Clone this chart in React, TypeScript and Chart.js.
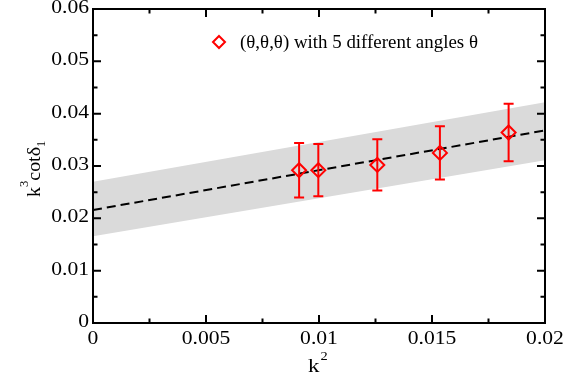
import React, { useEffect, useRef } from "react";
import { Chart, registerables } from "chart.js";

Chart.register(...registerables);

// Data
const k2 = [0.00912, 0.00997, 0.01258, 0.01535, 0.01839];
const kcot = [0.0292, 0.0292, 0.0302, 0.0325, 0.0364];
const kcotErr = [0.0052, 0.005, 0.0049, 0.0051, 0.0055];

const fitX = [0, 0.02];
const fitY = [0.0216, 0.0368];
const bandLow = [0.0166, 0.0311];
const bandHigh = [0.027, 0.0422];

const xMajorTicks = [0, 0.005, 0.01, 0.015, 0.02];
const xTickLabels = ["0", "0.005", "0.01", "0.015", "0.02"];
const xMinorTicks = [0.0025, 0.0075, 0.0125, 0.0175];
const yMajorTicks = [0, 0.01, 0.02, 0.03, 0.04, 0.05, 0.06];
const yTickLabels = ["0", "0.01", "0.02", "0.03", "0.04", "0.05", "0.06"];
const yMinorTicks = [0.005, 0.015, 0.025, 0.035, 0.045, 0.055];

const legendLabel = "(\u03b8,\u03b8,\u03b8) with 5 different angles \u03b8";

const SERIF = '"Liberation Serif", "DejaVu Serif", serif';
const SX = 1.2;

function drawText(
  ctx: CanvasRenderingContext2D,
  text: string,
  x: number,
  y: number,
  size: number,
  align: "left" | "center" | "right",
  baseline: CanvasTextBaseline,
  sx = SX
) {
  ctx.save();
  ctx.font = `${size}px ${SERIF}`;
  ctx.textBaseline = baseline;
  ctx.textAlign = "left";
  const w = ctx.measureText(text).width * sx;
  let x0 = x;
  if (align === "center") x0 = x - w / 2;
  if (align === "right") x0 = x - w;
  ctx.translate(x0, y);
  ctx.scale(sx, 1);
  ctx.fillText(text, 0, 0);
  ctx.restore();
  return w;
}

const decorPlugin = {
  id: "decor",
  afterDatasetsDraw(chart: any) {
    const ctx: CanvasRenderingContext2D = chart.ctx;
    const xs = chart.scales.x;
    const ys = chart.scales.y;
    // error bars
    ctx.save();
    ctx.strokeStyle = "#ff0000";
    ctx.lineWidth = 2;
    for (let i = 0; i < k2.length; i++) {
      const px = xs.getPixelForValue(k2[i]);
      const top = ys.getPixelForValue(kcot[i] + kcotErr[i]);
      const bot = ys.getPixelForValue(kcot[i] - kcotErr[i]);
      ctx.beginPath();
      ctx.moveTo(px, top);
      ctx.lineTo(px, bot);
      ctx.moveTo(px - 5, top);
      ctx.lineTo(px + 5, top);
      ctx.moveTo(px - 5, bot);
      ctx.lineTo(px + 5, bot);
      ctx.stroke();
    }
    ctx.restore();
  },
  afterDraw(chart: any) {
    const ctx: CanvasRenderingContext2D = chart.ctx;
    const xs = chart.scales.x;
    const ys = chart.scales.y;
    const a = chart.chartArea;
    ctx.save();
    ctx.strokeStyle = "#000";
    ctx.fillStyle = "#000";
    ctx.lineWidth = 2;
    ctx.strokeRect(a.left, a.top, a.right - a.left, a.bottom - a.top);
    ctx.beginPath();
    const maj = 8;
    const min = 4.5;
    xMajorTicks.forEach((v) => {
      const p = xs.getPixelForValue(v);
      ctx.moveTo(p, a.bottom);
      ctx.lineTo(p, a.bottom - maj);
      ctx.moveTo(p, a.top);
      ctx.lineTo(p, a.top + maj);
    });
    xMinorTicks.forEach((v) => {
      const p = xs.getPixelForValue(v);
      ctx.moveTo(p, a.bottom);
      ctx.lineTo(p, a.bottom - min);
      ctx.moveTo(p, a.top);
      ctx.lineTo(p, a.top + min);
    });
    yMajorTicks.forEach((v) => {
      const p = ys.getPixelForValue(v);
      ctx.moveTo(a.left, p);
      ctx.lineTo(a.left + maj, p);
      ctx.moveTo(a.right, p);
      ctx.lineTo(a.right - maj, p);
    });
    yMinorTicks.forEach((v) => {
      const p = ys.getPixelForValue(v);
      ctx.moveTo(a.left, p);
      ctx.lineTo(a.left + min, p);
      ctx.moveTo(a.right, p);
      ctx.lineTo(a.right - min, p);
    });
    ctx.stroke();

    // tick labels
    xMajorTicks.forEach((v, i) => {
      const p = xs.getPixelForValue(v);
      drawText(ctx, xTickLabels[i], p, a.bottom + 21, 18, "center", "alphabetic");
    });
    yMajorTicks.forEach((v, i) => {
      const p = ys.getPixelForValue(v);
      drawText(ctx, yTickLabels[i], a.left - 4, p + 4, 18, "right", "alphabetic");
    });

    // x title k^2
    const cx = (a.left + a.right) / 2;
    const kw = drawText(ctx, "k", cx - 11, 372, 19, "left", "alphabetic");
    drawText(ctx, "2", cx - 11 + kw + 1, 360, 12, "left", "alphabetic");

    // y title k^3 cot delta_1 (rotated)
    ctx.save();
    ctx.translate(40, 197);
    ctx.rotate(-Math.PI / 2);
    let x = 0;
    x += drawText(ctx, "k", x, 0, 19, "left", "alphabetic", 1.05);
    x += drawText(ctx, "3", x, -12, 12, "left", "alphabetic", 1.05);
    x += drawText(ctx, "cot\u03b4", x, 0, 19, "left", "alphabetic", 1.05);
    drawText(ctx, "1", x, 5, 12, "left", "alphabetic", 1.05);
    ctx.restore();

    // legend
    ctx.save();
    ctx.strokeStyle = "#ff0000";
    ctx.lineWidth = 2;
    const lx = 219;
    const ly = 42;
    const r = 6;
    ctx.beginPath();
    ctx.moveTo(lx, ly - r);
    ctx.lineTo(lx + r, ly);
    ctx.lineTo(lx, ly + r);
    ctx.lineTo(lx - r, ly);
    ctx.closePath();
    ctx.stroke();
    ctx.restore();
    ctx.fillStyle = "#000";
    drawText(ctx, legendLabel, 240, 48, 18, "left", "alphabetic", 1.05);
    ctx.restore();
  },
};

export default function App() {
  const ref = useRef<HTMLCanvasElement | null>(null);
  useEffect(() => {
    if (!ref.current) return;
    const chart = new Chart(ref.current, {
      type: "scatter",
      data: {
        datasets: [
          {
            type: "line",
            order: 4,
            data: fitX.map((x, i) => ({ x, y: bandLow[i] })),
            borderWidth: 0,
            borderColor: "rgba(0,0,0,0)",
            pointRadius: 0,
            showLine: true,
            fill: false,
          },
          {
            type: "line",
            order: 3,
            data: fitX.map((x, i) => ({ x, y: bandHigh[i] })),
            borderWidth: 0,
            borderColor: "rgba(0,0,0,0)",
            backgroundColor: "#dadada",
            pointRadius: 0,
            showLine: true,
            fill: "-1",
          },
          {
            type: "line",
            order: 2,
            data: fitX.map((x, i) => ({ x, y: fitY[i] })),
            borderColor: "#000",
            borderWidth: 2,
            borderDash: [9, 5],
            pointRadius: 0,
            showLine: true,
            fill: false,
          },
          {
            type: "scatter",
            order: 1,
            data: k2.map((x, i) => ({ x, y: kcot[i] })),
            pointStyle: "rectRot",
            pointRadius: 7,
            borderColor: "#ff0000",
            backgroundColor: "rgba(0,0,0,0)",
            pointBorderWidth: 2,
            borderWidth: 2,
          },
        ],
      },
      options: {
        responsive: false,
        animation: false,
        devicePixelRatio: 1,
        layout: { padding: { left: 93, right: 38, top: 5, bottom: 54 } },
        plugins: { legend: { display: false }, tooltip: { enabled: false } },
        scales: {
          x: { type: "linear", min: 0, max: 0.02, display: false },
          y: { type: "linear", min: 0, max: 0.06, display: false },
        },
      },
      plugins: [decorPlugin],
    } as any);
    return () => chart.destroy();
  }, []);
  return (
    <div style={{ position: "fixed", left: 0, top: 0, width: 583, height: 377, background: "#fff" }}>
      <canvas ref={ref} width={583} height={377} style={{ display: "block" }} />
    </div>
  );
}
